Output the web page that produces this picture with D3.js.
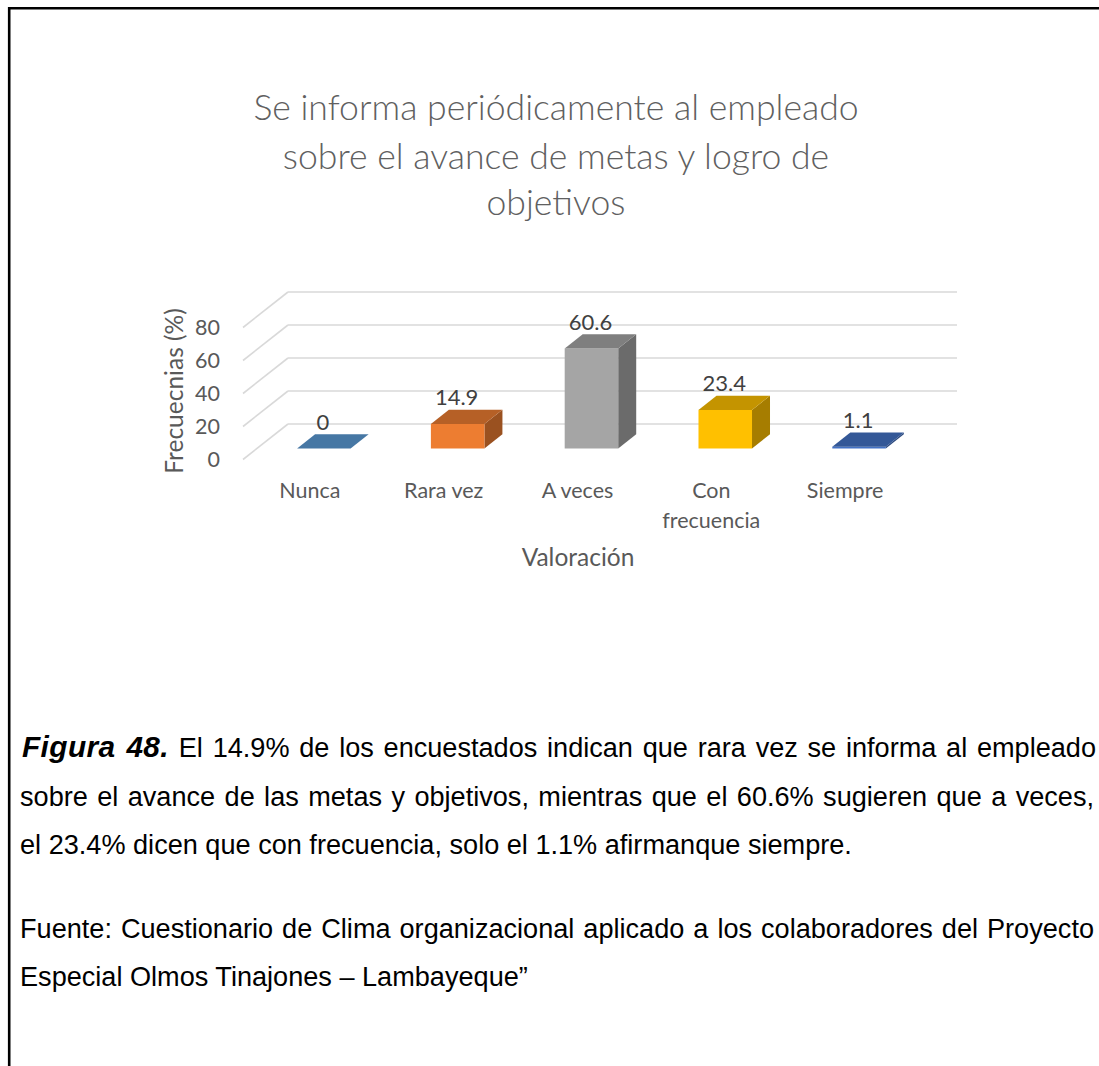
<!DOCTYPE html>
<html>
<head>
<meta charset="utf-8">
<script src="https://cdn.jsdelivr.net/npm/d3@7"></script>
<style>
  html, body { margin: 0; padding: 0; background: #fff; }
  svg { display: block; }
</style>
</head>
<body>
<svg id="fig" width="1099" height="1066"></svg>
<script>
// ---- data ----
const categories = ["Nunca", "Rara vez", "A veces", "Con frecuencia", "Siempre"];
const categoryLines = [["Nunca"], ["Rara vez"], ["A veces"], ["Con", "frecuencia"], ["Siempre"]];
const values = [0, 14.9, 60.6, 23.4, 1.1];
const barColors = ["#5B9BD5", "#ED7D31", "#A5A5A5", "#FFC000", "#4472C4"];
const yTicks = [0, 20, 40, 60, 80];
const titleLines = ["Se informa periódicamente al empleado", "sobre el avance de metas y logro de", "objetivos"];
const yAxisTitle = "Frecuecnias (%)";
const xAxisTitle = "Valoración";
const captionLead = "Figura 48.";
const captionLines = [
  " El 14.9% de los encuestados indican que rara vez se informa al empleado",
  "sobre el avance de las metas y objetivos, mientras que el 60.6% sugieren que a veces,",
  "el 23.4% dicen que con frecuencia, solo el 1.1% afirmanque siempre."
];
const sourceLines = [
  "Fuente: Cuestionario de Clima organizacional aplicado a los colaboradores del Proyecto",
  "Especial Olmos Tinajones – Lambayeque”"
];

const svg = d3.select("#fig");
const chartFont = "Lato, 'Open Sans', sans-serif";
const textGray = "#595959";

// page frame (left and top rules)
svg.append("line").attr("x1", 9.2).attr("x2", 9.2).attr("y1", 7).attr("y2", 1066)
  .attr("stroke", "#000").attr("stroke-width", 2.6);
svg.append("line").attr("x1", 8).attr("x2", 1099).attr("y1", 8.2).attr("y2", 8.2)
  .attr("stroke", "#000").attr("stroke-width", 2.6);

// ---- 3D column chart geometry ----
const frontLeft = 243, frontRight = 912;
const depth = { dx: 45, dy: -35.5 };       // floor depth vector (front plane -> back wall)
const barDepthStart = 0.31, barDepthSize = 0.4;

const x = d3.scaleBand().domain(categories).range([frontLeft, frontRight])
  .paddingInner(0.6).paddingOuter(0.3);
const y = d3.scaleLinear().domain([0, 80]).range([459.5, 327.5]);

// gridlines: back wall + left side wall
const grid = svg.append("g").attr("stroke", "#d9d9d9").attr("stroke-width", 1.6).attr("fill", "none");
yTicks.forEach(t => {
  const yf = y(t), yb = y(t) + depth.dy;
  grid.append("line").attr("x1", frontLeft + depth.dx).attr("x2", frontRight + depth.dx)
    .attr("y1", yb).attr("y2", yb);
  grid.append("line").attr("x1", frontLeft).attr("y1", yf)
    .attr("x2", frontLeft + depth.dx).attr("y2", yb);
});

// y tick labels
svg.append("g").selectAll("text").data(yTicks).join("text")
  .attr("x", 220).attr("y", d => y(d)).attr("dy", "0.35em")
  .attr("text-anchor", "end").attr("font-family", chartFont).attr("font-size", 21.5)
  .attr("fill", textGray).text(d => d);

// bars
const sx = depth.dx * barDepthStart, sy = depth.dy * barDepthStart;
const ddx = depth.dx * barDepthSize, ddy = depth.dy * barDepthSize;
const shade = (c, k) => { const r = d3.rgb(c); return d3.rgb(r.r * k, r.g * k, r.b * k).formatHex(); };

const bars = svg.append("g");
categories.forEach((c, i) => {
  const v = values[i];
  const x0 = x(c) + sx, x1 = x0 + x.bandwidth();
  const yb = y(0) + sy, yt = y(v) + sy;
  const g = bars.append("g");
  // right side face
  g.append("path").attr("d", d3.line()([[x1, yt], [x1 + ddx, yt + ddy], [x1 + ddx, yb + ddy], [x1, yb]]))
    .attr("fill", shade(barColors[i], 0.65));
  // front face
  g.append("rect").attr("x", x0).attr("y", yt).attr("width", x1 - x0).attr("height", Math.max(0, yb - yt))
    .attr("fill", barColors[i]);
  // top face
  g.append("path").attr("d", d3.line()([[x0, yt], [x1, yt], [x1 + ddx, yt + ddy], [x0 + ddx, yt + ddy]]))
    .attr("fill", shade(barColors[i], 0.77));
  // value label
  svg.append("text").attr("x", (x0 + x1) / 2 - 1).attr("y", yt + ddy - 12).attr("dy", "0.35em")
    .attr("text-anchor", "middle").attr("font-family", chartFont).attr("font-size", 22)
    .attr("fill", "#404040").text(v);
});

// category labels
const catG = svg.append("g").attr("font-family", chartFont).attr("font-size", 21.5).attr("fill", textGray)
  .attr("text-anchor", "middle");
categories.forEach((c, i) => {
  const cx = x(c) + x.bandwidth() / 2;
  const t = catG.append("text").attr("x", cx).attr("y", 498);
  categoryLines[i].forEach((ln, j) => t.append("tspan").attr("x", cx)
    .attr("dy", j === 0 ? 0 : 30).text(ln));
});

// axis titles
svg.append("text").attr("x", 578).attr("y", 566).attr("text-anchor", "middle")
  .attr("font-family", chartFont).attr("font-size", 24.5).attr("fill", textGray).text(xAxisTitle);
svg.append("text").attr("transform", "translate(183,391) rotate(-90)").attr("text-anchor", "middle")
  .attr("font-family", chartFont).attr("font-size", 24.5).attr("fill", textGray).text(yAxisTitle);

// chart title
const titleY = [120, 169, 215];
titleLines.forEach((ln, i) => {
  svg.append("text").attr("x", 556).attr("y", titleY[i]).attr("text-anchor", "middle")
    .attr("font-family", chartFont).attr("font-weight", 300).attr("font-size", 35.6)
    .attr("fill", "#606060").text(ln);
});

// ---- caption below the chart ----
const capFont = "'Liberation Sans', Arial, sans-serif";
const capLeft = 20, capRight = 1094;
const capG = svg.append("g").attr("font-family", capFont).attr("fill", "#000");

// font size from the natural width of the last (unjustified) line
const probe = capG.append("text").attr("font-size", 100).text(captionLines[2]);
const capSize = 100 * 832 / probe.node().getComputedTextLength();
probe.remove();
capG.attr("font-size", capSize);

function justify(textSel, content) {
  const natural = textSel.node().getComputedTextLength();
  const spaces = (content.match(/ /g) || []).length;
  if (spaces > 0) textSel.attr("word-spacing", (capRight - capLeft - natural) / spaces);
}

const capY = [757, 806, 854];
const l1 = capG.append("text").attr("x", capLeft + 2).attr("y", capY[0]);
l1.append("tspan").attr("font-weight", "bold").attr("font-style", "italic")
  .attr("font-size", capSize * 1.1).attr("letter-spacing", 0.4).text(captionLead);
l1.append("tspan").text(captionLines[0]);
justify(l1, captionLead + captionLines[0]);
const l2 = capG.append("text").attr("x", capLeft).attr("y", capY[1]).text(captionLines[1]);
justify(l2, captionLines[1]);
capG.append("text").attr("x", capLeft).attr("y", capY[2]).text(captionLines[2]);

const srcY = [938, 986];
const s1 = capG.append("text").attr("x", capLeft).attr("y", srcY[0]).text(sourceLines[0]);
justify(s1, sourceLines[0]);
capG.append("text").attr("x", capLeft).attr("y", srcY[1]).text(sourceLines[1]);
</script>
</body>
</html>
